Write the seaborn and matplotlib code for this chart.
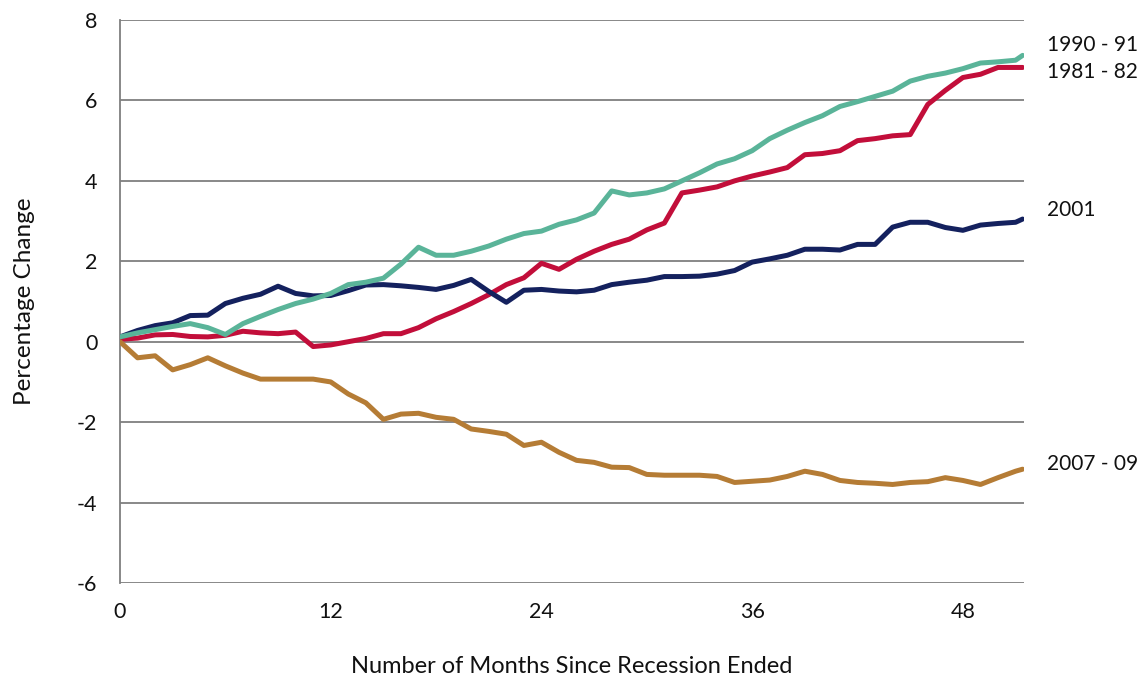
import matplotlib
matplotlib.use("Agg")
import matplotlib.pyplot as plt
import matplotlib.transforms as mtransforms
import numpy as np
import pandas as pd
import seaborn as sns

# ---- data ----
months = list(range(52)) + [51.4]

r1981_82 = [0.06, 0.09, 0.17, 0.18, 0.13, 0.12, 0.16, 0.26, 0.22, 0.2,
            0.24, -0.12, -0.08, 0.0, 0.08, 0.2, 0.2, 0.35, 0.57, 0.75,
            0.95, 1.17, 1.42, 1.59, 1.95, 1.8, 2.05, 2.25, 2.42, 2.55,
            2.78, 2.95, 3.7, 3.77, 3.85, 4.0, 4.12, 4.22, 4.33, 4.65,
            4.68, 4.75, 5.0, 5.05, 5.12, 5.15, 5.9, 6.25, 6.57, 6.65,
            6.82, 6.82, 6.82]

r1990_91 = [0.12, 0.22, 0.3, 0.38, 0.45, 0.35, 0.18, 0.45, 0.63, 0.8,
            0.95, 1.06, 1.2, 1.42, 1.48, 1.58, 1.93, 2.35, 2.15, 2.15,
            2.25, 2.38, 2.55, 2.69, 2.75, 2.92, 3.03, 3.2, 3.75, 3.65,
            3.7, 3.8, 4.0, 4.2, 4.42, 4.55, 4.75, 5.05, 5.26, 5.45,
            5.62, 5.85, 5.97, 6.1, 6.23, 6.48, 6.6, 6.68, 6.79, 6.93,
            6.96, 7.0, 7.12]

r2001 = [0.12, 0.28, 0.4, 0.47, 0.65, 0.66, 0.95, 1.08, 1.18, 1.38,
         1.2, 1.14, 1.15, 1.27, 1.41, 1.42, 1.39, 1.35, 1.3, 1.4,
         1.55, 1.25, 0.98, 1.28, 1.3, 1.26, 1.24, 1.28, 1.42, 1.48,
         1.53, 1.62, 1.62, 1.63, 1.68, 1.77, 1.98, 2.06, 2.15, 2.3,
         2.3, 2.28, 2.42, 2.42, 2.85, 2.97, 2.97, 2.84, 2.77, 2.9,
         2.94, 2.97, 3.05]

r2007_09 = [0, -0.4, -0.35, -0.7, -0.57, -0.4, -0.6, -0.78, -0.93, -0.93,
            -0.93, -0.93, -1.0, -1.3, -1.52, -1.93, -1.8, -1.78, -1.88, -1.93,
            -2.17, -2.23, -2.3, -2.58, -2.5, -2.75, -2.95, -3.0, -3.12, -3.13,
            -3.3, -3.32, -3.32, -3.32, -3.35, -3.5, -3.47, -3.44, -3.35, -3.22,
            -3.3, -3.45, -3.5, -3.52, -3.55, -3.5, -3.48, -3.38, -3.45, -3.55,
            -3.38, -3.22, -3.17]

series_names = ["1981 - 82", "2001", "1990 - 91", "2007 - 09"]
series_values = [r1981_82, r2001, r1990_91, r2007_09]
colors = ["#C20E3A", "#14215E", "#5AB499", "#B57C35"]
label_y = {"1990 - 91": 7.38, "1981 - 82": 6.71, "2001": 3.28, "2007 - 09": -3.03}

x_ticks = [0, 12, 24, 36, 48]
y_ticks = [-6, -4, -2, 0, 2, 4, 6, 8]

df = pd.concat([pd.DataFrame({"month": months, "value": v, "recession": n})
                for n, v in zip(series_names, series_values)], ignore_index=True)

# ---- style ----
sns.set_style("white")
plt.rcParams["font.family"] = ["Lato", "DejaVu Sans"]

fig = plt.figure(figsize=(11.45, 6.79), dpi=100)
ax = fig.add_axes([120 / 1145, 1 - 583 / 679, (1024 - 120) / 1145, (583 - 20) / 679])

sns.lineplot(data=df, x="month", y="value", hue="recession", hue_order=series_names,
             palette=colors, linewidth=3.6, legend=False, ax=ax, zorder=3)

grid_c = "#7f7f7f"
ax.set_xlim(0, 51.48)
ax.set_ylim(-6, 8)
ax.set_yticks(y_ticks)
ax.set_yticklabels([str(t) for t in y_ticks])
ax.set_xticks(x_ticks)
ax.set_xticklabels([str(t) for t in x_ticks])
ax.yaxis.grid(True, color=grid_c, linewidth=1.3)
ax.xaxis.grid(False)
ax.set_axisbelow(True)
for s in ["top", "right", "bottom"]:
    ax.spines[s].set_visible(False)
ax.spines["left"].set_color(grid_c)
ax.spines["left"].set_linewidth(1.3)
ax.tick_params(axis="y", length=7.2, width=1.3, color=grid_c, pad=9,
               labelsize=15.5, labelcolor="#111111")
ax.tick_params(axis="x", length=0, pad=14, labelsize=15.5, labelcolor="#111111")

ax.set_xlabel("Number of Months Since Recession Ended", fontsize=17, labelpad=24, color="#111111")
ax.set_ylabel("Percentage Change", fontsize=17.5, labelpad=30, color="#111111")

trans = mtransforms.blended_transform_factory(ax.transAxes, ax.transData)
for n in series_names:
    ax.text(1.025, label_y[n], n, transform=trans, fontsize=15, va="center",
            ha="left", color="#111111", clip_on=False)

fig.savefig("out.png", dpi=100)
